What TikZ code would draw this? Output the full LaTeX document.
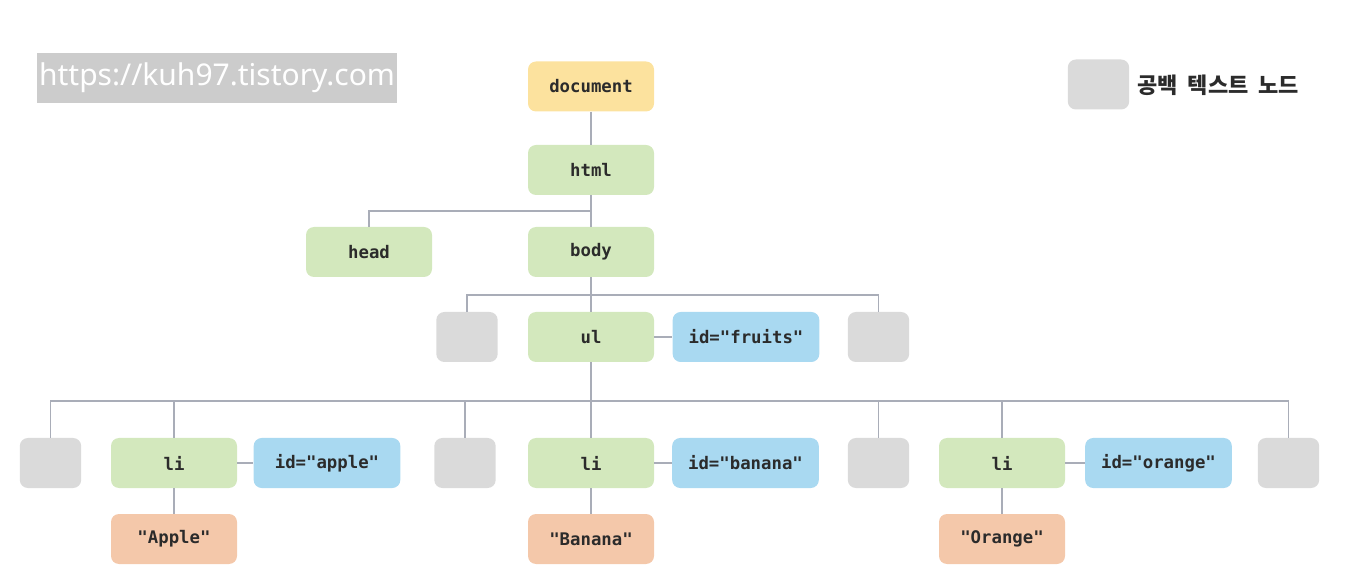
\documentclass[tikz,border=0pt]{standalone}
\usepackage{fontspec}
\setmonofont{DejaVu Sans Mono}
\newfontfamily\krfont{Noto Sans CJK KR}
\newfontfamily\urlfont{Noto Sans}
\definecolor{docc}{HTML}{FCE29E}
\definecolor{elc}{HTML}{D3E8BD}
\definecolor{attrc}{HTML}{A9D9F1}
\definecolor{txtc}{HTML}{F4C8AA}
\definecolor{wsc}{HTML}{DADADA}
\definecolor{urlc}{HTML}{CCCCCC}
\definecolor{linec}{HTML}{A9ADB8}
\definecolor{inkc}{HTML}{2B2B2B}
\begin{document}
\begin{tikzpicture}[x=0.75pt,y=-0.75pt,
  box/.style={rounded corners=6pt,minimum height=37.5pt,inner sep=0pt,
    font=\ttfamily\bfseries\fontsize{13}{15}\selectfont,text=inkc},
  docbox/.style={box,fill=docc,minimum width=94.5pt},
  elbox/.style={box,fill=elc,minimum width=94.5pt},
  attrbox/.style={box,fill=attrc,minimum width=110pt},
  txtbox/.style={box,fill=txtc,minimum width=94.5pt},
  wsbox/.style={box,fill=wsc,minimum width=46pt},
  conn/.style={draw=linec,line width=1.1pt}]
\useasboundingbox (0,0) rectangle (1364,584);
% url label
\node[fill=urlc,minimum width=270pt,minimum height=37.5pt,inner sep=0pt,
  text=white,font=\urlfont\fontsize{22.5}{26}\selectfont] (url) at (217,78) {https://kuh97.tistory.com};
% legend
\node[wsbox] (leg) at (1098.5,84.5) {};
\node[anchor=west,inner sep=0pt,font=\krfont\bfseries\fontsize{16.5}{19}\selectfont,text=inkc] (legt) at (1137,85) {공백\ \ 텍스트\ \ 노드};
% nodes
\node[docbox] (doc) at (591,86.5) {document};
\node[elbox] (html) at (591,170) {html};
\node[elbox] (head) at (369,252) {head};
\node[elbox] (body) at (591,252) {body};
\node[wsbox] (w1) at (467,337) {};
\node[elbox] (ul) at (591,337) {ul};
\node[attrbox] (fr) at (746,337) {id="fruits"};
\node[wsbox] (w2) at (878.5,337) {};
\node[wsbox] (w3) at (50.5,463) {};
\node[elbox] (li1) at (174,463) {li};
\node[attrbox] (ap) at (327,463) {id="apple"};
\node[wsbox] (w4) at (465,463) {};
\node[elbox] (li2) at (591,463) {li};
\node[attrbox] (ba) at (745.5,463) {id="banana"};
\node[wsbox] (w5) at (878.5,463) {};
\node[elbox] (li3) at (1002,463) {li};
\node[attrbox] (or) at (1158.5,463) {id="orange"};
\node[wsbox] (w6) at (1288.5,463) {};
\node[txtbox] (t1) at (174,539) {"Apple"};
\node[txtbox] (t2) at (591,539) {"Banana"};
\node[txtbox] (t3) at (1002,539) {"Orange"};
% junctions
\coordinate (j1) at (591,211);
\coordinate (j2) at (591,295);
\coordinate (j3) at (591,401);
% connectors
\draw[conn] (doc) -- (html);
\draw[conn] (html) -- (j1);
\draw[conn] (j1) -| (head);
\draw[conn] (j1) -- (body);
\draw[conn] (body) -- (j2);
\draw[conn] (j2) -| (w1);
\draw[conn] (j2) -| (w2);
\draw[conn] (j2) -- (ul);
\draw[conn] (ul) -- (fr);
\draw[conn] (ul) -- (j3);
\draw[conn] (j3) -| (w3);
\draw[conn] (j3) -| (li1);
\draw[conn] (j3) -| (w4);
\draw[conn] (j3) -- (li2);
\draw[conn] (j3) -| (w5);
\draw[conn] (j3) -| (li3);
\draw[conn] (j3) -| (w6);
\draw[conn] (li1) -- (ap);
\draw[conn] (li2) -- (ba);
\draw[conn] (li3) -- (or);
\draw[conn] (li1) -- (t1);
\draw[conn] (li2) -- (t2);
\draw[conn] (li3) -- (t3);
\end{tikzpicture}
\end{document}
